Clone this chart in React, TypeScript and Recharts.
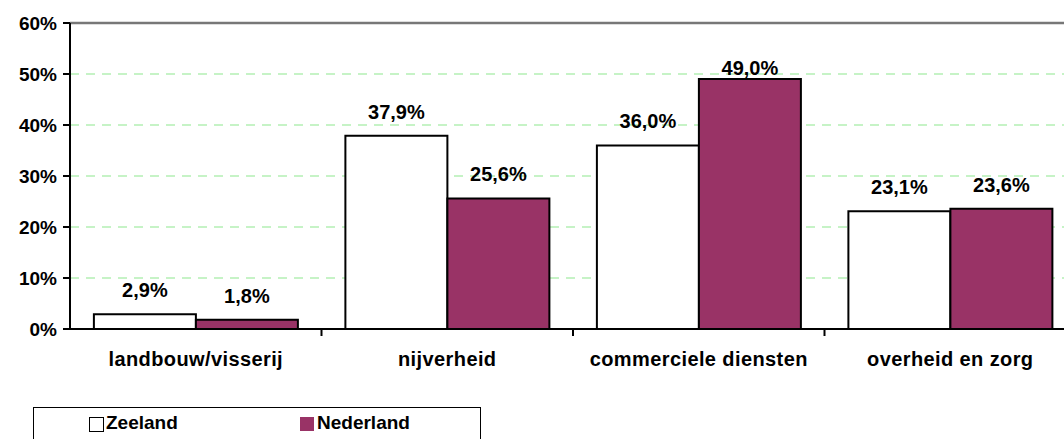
import React from "react";
import { BarChart, Bar, XAxis, YAxis, CartesianGrid, ReferenceLine, LabelList } from "recharts";

const categories = ["landbouw/visserij", "nijverheid", "commerciele diensten", "overheid en zorg"];
const zeeland = [2.9, 37.9, 36.0, 23.1];
const nederland = [1.8, 25.6, 49.0, 23.6];
const yTicks = [0, 10, 20, 30, 40, 50, 60];
const seriesNames = ["Zeeland", "Nederland"];

const data = categories.map((c, i) => ({ name: c, zeeland: zeeland[i], nederland: nederland[i] }));

const FONT = "'Liberation Sans', Arial, sans-serif";
const fmt = (v: number) => v.toFixed(1).replace(".", ",") + "%";
const CHART_W = 1076;
const Y_AXIS_W = 70;
const X_TICK_MARGIN = 23;
const BAND = (CHART_W - Y_AXIS_W) / categories.length;

const renderLabel = (props: any) => {
  const { x, y, width, value } = props;
  const baseline = Math.max(y - 17, 75);
  return (
    <text x={x + width / 2} y={baseline} textAnchor="middle" fontFamily={FONT} fontWeight="bold" fontSize={20} fill="#000">
      {fmt(value)}
    </text>
  );
};

const categoryTick = (p: any) => {
  const label = p.payload && p.payload.value;
  const idx = categories.indexOf(label);
  const axisY = Number(p.y) - X_TICK_MARGIN;
  const bx = Number(p.x) + BAND / 2;
  return (
    <g>
      {idx >= 0 && idx < categories.length - 1 && (
        <line x1={bx} x2={bx} y1={axisY} y2={axisY + 7} stroke="#000" strokeWidth={2} />
      )}
      <text
        x={p.x}
        y={p.y}
        dy="0.71em"
        textAnchor="middle"
        fontFamily={FONT}
        fontWeight="bold"
        fontSize={20}
        letterSpacing={0.4}
        fill="#000"
      >
        {label}
      </text>
    </g>
  );
};

export default function App() {
  return (
    <div style={{ position: "absolute", left: 0, top: 0, width: 1064, height: 439, background: "#fff", overflow: "hidden" }}>
      <BarChart
        width={CHART_W}
        height={439}
        data={data}
        margin={{ top: 23, right: 0, left: 0, bottom: 70 }}
        barCategoryGap="9.5%"
        barGap={0}
      >
        <CartesianGrid horizontal={true} vertical={false} stroke="#b4f0b4" strokeDasharray="9 7" strokeWidth={1.5} />
        <YAxis
          width={Y_AXIS_W}
          domain={[0, 60]}
          ticks={yTicks}
          tickFormatter={(v: number) => `${v}%`}
          axisLine={{ stroke: "#000", strokeWidth: 2 }}
          tickLine={{ stroke: "#000", strokeWidth: 2 }}
          tickSize={7}
          tickMargin={6}
          tick={{ fontFamily: FONT, fontWeight: "bold", fontSize: 19, fill: "#000" }}
          interval={0}
        />
        <XAxis
          dataKey="name"
          axisLine={{ stroke: "#000", strokeWidth: 2 }}
          tickLine={false}
          tickSize={0}
          tickMargin={X_TICK_MARGIN}
          height={40}
          interval={0}
          tick={categoryTick}
        />
        <ReferenceLine y={60} stroke="#777" strokeWidth={2.5} />
        <Bar dataKey="zeeland" fill="#ffffff" stroke="#000" strokeWidth={2} isAnimationActive={false}>
          <LabelList dataKey="zeeland" content={renderLabel} />
        </Bar>
        <Bar dataKey="nederland" fill="#993366" stroke="#000" strokeWidth={2} isAnimationActive={false}>
          <LabelList dataKey="nederland" content={renderLabel} />
        </Bar>
      </BarChart>
      <div
        style={{
          position: "absolute",
          left: 33,
          top: 407,
          width: 448,
          height: 40,
          border: "1.5px solid #000",
          boxSizing: "border-box",
          fontFamily: FONT,
          fontWeight: "bold",
          fontSize: 19,
          color: "#000",
        }}
      >
        <div style={{ position: "absolute", left: 55, top: 9, width: 13, height: 13, border: "1.5px solid #000", background: "#fff" }} />
        <div style={{ position: "absolute", left: 72, top: 4, lineHeight: "22px" }}>{seriesNames[0]}</div>
        <div style={{ position: "absolute", left: 266, top: 9, width: 14, height: 14, background: "#993366" }} />
        <div style={{ position: "absolute", left: 283, top: 4, lineHeight: "22px" }}>{seriesNames[1]}</div>
      </div>
    </div>
  );
}
